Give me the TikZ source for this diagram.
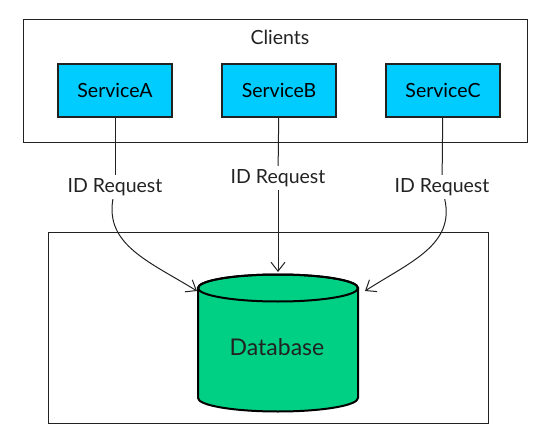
\documentclass[tikz,border=0pt]{standalone}
\usepackage{fontspec}
\setmainfont{Lato}
\usetikzlibrary{arrows.meta}
\definecolor{svcblue}{HTML}{00CCFF}
\definecolor{dbgreen}{HTML}{00D084}
\definecolor{ink}{HTML}{222222}

\begin{document}
\begin{tikzpicture}[x=1pt, y=-1pt,
    grp/.style={draw=ink, line width=1pt},
    svc/.style={draw=ink, line width=1.3pt, fill=svcblue, minimum width=114pt, minimum height=53pt},
    lbl/.style={text=ink},
    dbline/.style={draw=black, line width=2pt},
    req/.style={draw=ink, line width=1pt, -{Straight Barb[length=9pt, width=14pt]}},
    every node/.style={font=\fontsize{19.5}{24}\selectfont}]
    \useasboundingbox (0,0) rectangle (560,444);
    % Clients group
    \node[grp, minimum width=504pt, minimum height=122pt] (clientsbox) at (275,81) {};
    \node[lbl] (clients) at (280,37) {Clients};
    \node[svc] (sa) at (115,90.5) {ServiceA};
    \node[svc] (sb) at (279,90.5) {ServiceB};
    \node[svc] (sc) at (443,90.5) {ServiceC};
    % Database group
    \node[grp, minimum width=440pt, minimum height=191pt] (dbbox) at (268,327.5) {};
    \filldraw[dbline, fill=dbgreen] (198,288) -- (198,398)
        arc[start angle=180, end angle=0, x radius=80, y radius=13.5] -- (358,288)
        arc[start angle=0, end angle=-180, x radius=80, y radius=13.5] -- cycle;
    \draw[dbline] (278,288) ellipse[x radius=80, y radius=13.5];
    \node[lbl, font=\fontsize{23}{28}\selectfont] (db) at (277,347) {Database};
    \coordinate (dbl) at (197,291);
    \coordinate (dbtop) at (278,272);
    \coordinate (dbr) at (365,291);
    % ID requests
    \node[lbl] (ra) at (115,187) {ID Request};
    \node[lbl] (rb) at (278,178) {ID Request};
    \node[lbl] (rc) at (442,187) {ID Request};
    \draw[draw=ink, line width=1pt] (sa) -- (ra);
    \draw[draw=ink, line width=1pt] (sb) -- (rb);
    \draw[draw=ink, line width=1pt] (sc) -- (rc);
    \draw[req] (ra) .. controls (105,245) and (150,262) .. (dbl);
    \draw[req] (rb) -- (dbtop);
    \draw[req] (rc) .. controls (455,245) and (410,262) .. (dbr);
\end{tikzpicture}
\end{document}
